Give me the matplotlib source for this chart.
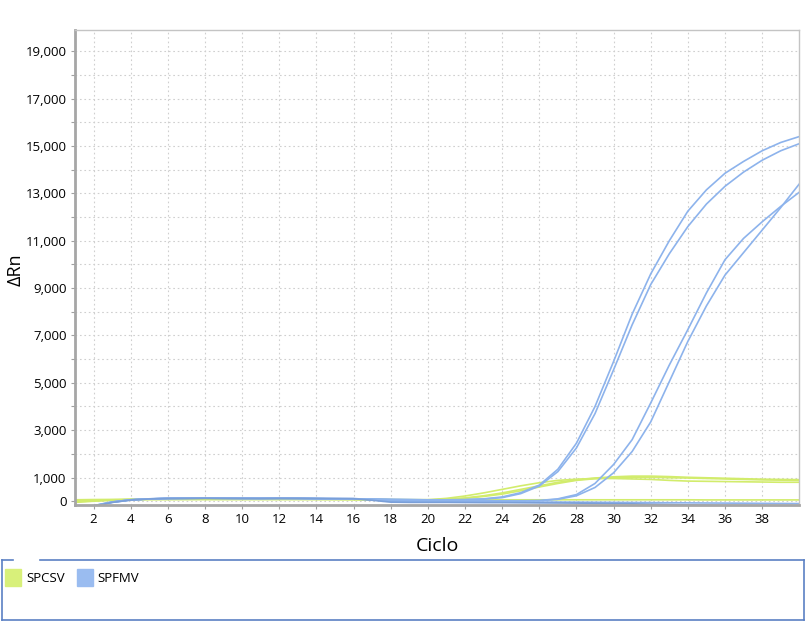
import matplotlib
matplotlib.use("Agg")
import matplotlib.pyplot as plt
from matplotlib.lines import Line2D
from matplotlib.patches import Rectangle

plt.rcParams['font.family'] = ['Open Sans', 'DejaVu Sans']

cycles = list(range(1, 41))

# SPFMV (blue) amplification curves
spfmv_a = [-250, -200, -40, 60, 100, 120, 125, 130, 125, 120, 120, 125, 120, 110, 100, 100, 90, 80, 70, 60,
           60, 70, 100, 180, 360, 680, 1350, 2450, 4000, 5900, 7900, 9600, 11000, 12250, 13150, 13850, 14350, 14800, 15150, 15400]
spfmv_b = [-260, -210, -50, 50, 95, 115, 120, 125, 120, 118, 118, 120, 115, 105, 95, 95, 85, 75, 65, 55,
           55, 60, 90, 150, 320, 640, 1250, 2250, 3700, 5550, 7450, 9150, 10450, 11600, 12550, 13300, 13900, 14400, 14800, 15100]
spfmv_c = [-240, -190, -30, 60, 100, 120, 125, 128, 125, 120, 118, 122, 118, 110, 100, 95, 80, 60, 40, 30,
           25, 20, 20, 20, 20, 30, 100, 280, 750, 1550, 2600, 4150, 5750, 7250, 8800, 10200, 11100, 11800, 12450, 13050]
spfmv_d = [-250, -200, -40, 55, 95, 115, 120, 125, 122, 118, 115, 118, 115, 105, 95, 90, 75, 55, 35, 25,
           20, 15, 10, 10, 10, 20, 80, 230, 580, 1200, 2100, 3350, 5050, 6750, 8250, 9550, 10500, 11450, 12400, 13400]
spfmv_neg1 = [-240, -190, -30, 60, 100, 120, 125, 128, 125, 120, 120, 125, 125, 120, 120, 115, 60, 0, -20, -20,
              -20, -25, -25, -30, -30, -35, -35, -40, -45, -50, -55, -60, -65, -70, -75, -80, -85, -90, -95, -100]
spfmv_neg2 = [-260, -210, -50, 50, 95, 115, 120, 125, 120, 118, 115, 120, 120, 115, 110, 105, 40, -40, -50, -50,
              -50, -55, -60, -60, -65, -70, -75, -80, -90, -100, -110, -125, -140, -155, -165, -175, -180, -185, -190, -195]

# SPCSV (green) amplification curves
spcsv_a = [60, 70, 75, 80, 80, 80, 80, 80, 80, 80, 80, 80, 80, 80, 80, 80, 70, 60, 50, 60,
           120, 220, 350, 500, 650, 780, 880, 930, 960, 960, 940, 920, 880, 850, 840, 830, 820, 810, 800, 800]
spcsv_b = [20, 40, 60, 75, 80, 80, 80, 80, 80, 80, 80, 80, 80, 80, 75, 70, 60, 50, 45, 50,
           80, 140, 230, 350, 500, 650, 800, 900, 980, 1030, 1060, 1060, 1040, 1010, 990, 970, 950, 930, 920, 910]
spcsv_c = [-20, 10, 50, 70, 75, 78, 80, 80, 80, 80, 80, 80, 80, 78, 75, 70, 60, 50, 45, 45,
           70, 120, 200, 300, 440, 600, 750, 880, 950, 1000, 1010, 1010, 990, 980, 960, 940, 920, 900, 890, 880]
spcsv_flat = [-50, 0, 40, 70, 80, 80, 80, 80, 80, 80, 80, 80, 80, 80, 80, 80, 75, 70, 65, 65,
              65, 65, 65, 60, 60, 60, 60, 60, 60, 60, 60, 60, 60, 60, 55, 55, 55, 55, 55, 55]

y_major = list(range(0, 20000, 1000))
x_ticks = list(range(2, 40, 2))

BLUE = '#8db3ec'
BLUE_DARK = '#7a9fd8'
GREEN = '#d2ec6c'

fig = plt.figure(figsize=(8.06, 6.23), dpi=100)
ax = fig.add_axes([75/806, 1-505/623, (799.3-75)/806, (505-30)/623])

for ys in [spcsv_a, spcsv_b, spcsv_c, spcsv_flat]:
    ax.plot(cycles, ys, color=GREEN, lw=1.2, solid_capstyle='round')
for ys in [spfmv_a, spfmv_b, spfmv_c, spfmv_d, spfmv_neg1]:
    ax.plot(cycles, ys, color=BLUE, lw=1.2)
ax.plot(cycles, spfmv_neg2, color=BLUE_DARK, lw=1.2)

ax.set_xlim(1, 40)
ax.set_ylim(-160, 19900)
ax.set_xticks(x_ticks)
ax.set_xticklabels([str(t) for t in x_ticks])
ax.set_yticks(y_major)
ax.set_yticklabels(['0' if v == 0 else ('{:,}'.format(v) if (v // 1000) % 2 == 1 else '') for v in y_major])
ax.tick_params(axis='both', labelsize=9.5, length=3, color='#a0a0a0', pad=3)
ax.grid(True, color='#cfcfcf', linestyle=(0, (1.5, 2.5)), linewidth=0.8)
ax.set_axisbelow(True)

for s in ['left', 'bottom']:
    ax.spines[s].set_color('#a6a6a6')
    ax.spines[s].set_linewidth(2.0)
for s in ['top', 'right']:
    ax.spines[s].set_color('#c4c4c4')
    ax.spines[s].set_linewidth(1.0)

ax.set_xlabel('Ciclo', fontsize=14, labelpad=8)
fig.text(16/806, 1-270/623, 'ΔRn', rotation=90, fontsize=13, ha='center', va='center')

# legend box (group box with a gap in the top border)
W, H = 806, 623
def fl(x0, y0, x1, y1):
    fig.add_artist(Line2D([x0/W, x1/W], [1-y0/H, 1-y1/H], color='#5b80c4', lw=1.2))
fl(2, 560, 2, 620)
fl(2, 620, 804, 620)
fl(804, 560, 804, 620)
fl(2, 560, 13, 560)
fl(40, 560, 804, 560)

fig.add_artist(Rectangle((5/W, 1-586/H), 16/W, 17/H, color='#d8f07a', transform=fig.transFigure))
fig.text(26/W, 1-578/H, 'SPCSV', fontsize=9.5, va='center', ha='left')
fig.add_artist(Rectangle((77/W, 1-586/H), 16/W, 17/H, color='#9abcf0', transform=fig.transFigure))
fig.text(97/W, 1-578/H, 'SPFMV', fontsize=9.5, va='center', ha='left')

fig.savefig('out.png', dpi=100)
